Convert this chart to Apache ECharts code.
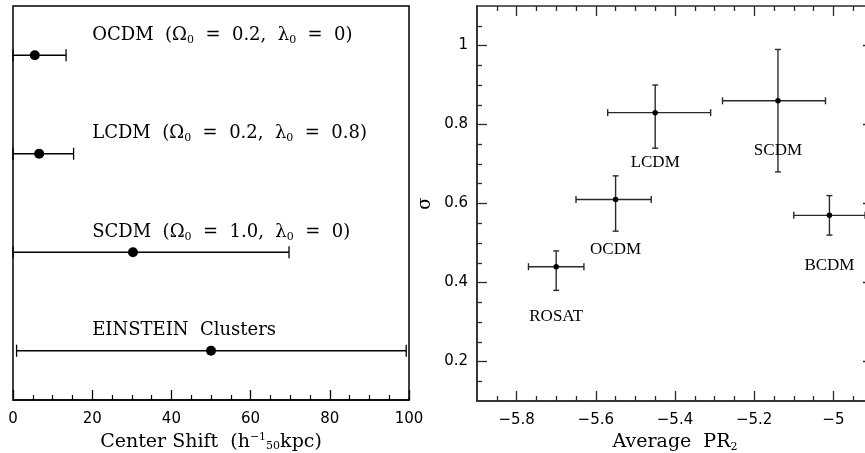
<!DOCTYPE html>
<html>
<head>
<meta charset="utf-8">
<script src="https://cdn.jsdelivr.net/npm/echarts@6/dist/echarts.min.js"></script>
<style>
  html, body { margin: 0; padding: 0; background: #fff; }
  #chart { width: 865px; height: 453px; }
</style>
</head>
<body>
<div id="chart"></div>
<script>
// left panel: center shift per model (rich text: {s|..} is a subscript)
const shiftNames = [
  'OCDM  (Ω{s|0}  =  0.2,  λ{s|0}  =  0)',
  'LCDM  (Ω{s|0}  =  0.2,  λ{s|0}  =  0.8)',
  'SCDM  (Ω{s|0}  =  1.0,  λ{s|0}  =  0)',
  'EINSTEIN  Clusters'
]
const shiftRow = [3.5, 2.5, 1.5, 0.5]
const shiftVal = [5.5, 6.6, 30.3, 50]
const shiftLo = [0, 0, 0, 0.9]
const shiftHi = [13.4, 15.3, 69.7, 99.3]

// right panel: sigma vs average PR2
const modelNames = ['ROSAT', 'OCDM', 'LCDM', 'SCDM', 'BCDM']
const pr2 = [-5.70, -5.55, -5.45, -5.14, -5.01]
const pr2Lo = [-5.77, -5.65, -5.57, -5.28, -5.10]
const pr2Hi = [-5.63, -5.46, -5.31, -5.02, -4.92]
const sigma = [0.44, 0.61, 0.83, 0.86, 0.57]
const sigmaLo = [0.38, 0.53, 0.74, 0.68, 0.52]
const sigmaHi = [0.48, 0.67, 0.90, 0.99, 0.62]

// tick values for the right panel
const xMajor = [-5.8, -5.6, -5.4, -5.2, -5.0]
const xMinor = [-5.85, -5.75, -5.7, -5.65, -5.55, -5.5, -5.45, -5.35, -5.3, -5.25, -5.15, -5.1, -5.05, -4.95]
const yMajor = [0.2, 0.4, 0.6, 0.8, 1.0]
const yMinor = [0.15, 0.25, 0.3, 0.35, 0.45, 0.5, 0.55, 0.65, 0.7, 0.75, 0.85, 0.9, 0.95, 1.05]

const INK = '#000'
const INK2 = '#2a2a2a'
const SERIF = 'DejaVu Serif'
const MAJOR = 10
const MINOR = 5
const tickFont = { color: INK, fontSize: 15, fontFamily: 'DejaVu Sans' }
const minus = v => String(v).replace('-', '\u2212')
const subRich = {
  s: { fontSize: 11, fontFamily: SERIF, color: INK, verticalAlign: 'bottom', padding: [9, 0, 0, 0] },
  u: { fontSize: 11, fontFamily: SERIF, color: INK, verticalAlign: 'top', padding: [0, 0, 6, 0] }
}

const chart = echarts.init(document.getElementById('chart'))

const leftData = shiftVal.map((v, i) => [v, shiftRow[i], shiftLo[i], shiftHi[i], i])
const rightData = pr2.map((v, i) => [v, sigma[i], pr2Lo[i], pr2Hi[i], sigmaLo[i], sigmaHi[i], i])

const renderShift = (params, api) => {
  const y = api.value(1)
  const a = api.coord([api.value(2), y])
  const b = api.coord([api.value(3), y])
  const t = api.coord([20, y])
  const st = { stroke: INK, lineWidth: 1.3 }
  return {
    type: 'group',
    children: [
      { type: 'line', shape: { x1: a[0], y1: a[1], x2: b[0], y2: b[1] }, style: st },
      { type: 'line', shape: { x1: a[0], y1: a[1] - 6, x2: a[0], y2: a[1] + 6 }, style: st },
      { type: 'line', shape: { x1: b[0], y1: b[1] - 6, x2: b[0], y2: b[1] + 6 }, style: st },
      {
        type: 'text',
        x: t[0], y: t[1] - 20,
        style: {
          text: shiftNames[api.value(4)],
          fill: INK, fontSize: 18, fontFamily: SERIF,
          align: 'left', verticalAlign: 'middle',
          rich: subRich
        }
      }
    ]
  }
}

const renderCross = (params, api) => {
  const x = api.value(0)
  const y = api.value(1)
  const p = api.coord([x, y])
  const xl = api.coord([api.value(2), y])
  const xh = api.coord([api.value(3), y])
  const yl = api.coord([x, api.value(4)])
  const yh = api.coord([x, api.value(5)])
  const st = { stroke: INK2, lineWidth: 1.4 }
  return {
    type: 'group',
    children: [
      { type: 'line', shape: { x1: xl[0], y1: p[1], x2: xh[0], y2: p[1] }, style: st },
      { type: 'line', shape: { x1: xl[0], y1: p[1] - 3.5, x2: xl[0], y2: p[1] + 3.5 }, style: st },
      { type: 'line', shape: { x1: xh[0], y1: p[1] - 3.5, x2: xh[0], y2: p[1] + 3.5 }, style: st },
      { type: 'line', shape: { x1: p[0], y1: yl[1], x2: p[0], y2: yh[1] }, style: st },
      { type: 'line', shape: { x1: p[0] - 3, y1: yl[1], x2: p[0] + 3, y2: yl[1] }, style: st },
      { type: 'line', shape: { x1: p[0] - 3, y1: yh[1], x2: p[0] + 3, y2: yh[1] }, style: st },
      {
        type: 'text',
        x: p[0], y: p[1] + 50,
        style: {
          text: modelNames[api.value(6)],
          fill: INK, fontSize: 17, fontFamily: 'Liberation Serif',
          align: 'center', verticalAlign: 'middle'
        }
      }
    ]
  }
}

// helper for the mirrored tick-only axes of the right panel
const tickAxis = (position, values, len, extra) => Object.assign({
  gridIndex: 1,
  type: 'value',
  position,
  axisLine: { show: false, onZero: false },
  axisTick: { show: true, inside: true, length: len, customValues: values, lineStyle: { color: INK2, width: 1.3 } },
  axisLabel: { show: false },
  splitLine: { show: false }
}, extra)

const xr = { min: -5.9, max: -4.9 }
const yr = { min: 0.1, max: 1.1 }

chart.setOption({
  animation: false,
  grid: [
    { left: 13, top: 6, width: 396, height: 394, outerBoundsMode: 'none', containLabel: false, show: true, borderColor: INK, borderWidth: 1.5, backgroundColor: 'transparent' },
    { left: 477, top: 6, width: 396, height: 395, outerBoundsMode: 'none', containLabel: false, show: true, borderColor: INK2, borderWidth: 1.5, backgroundColor: 'transparent' }
  ],
  xAxis: [
    {
      gridIndex: 0, type: 'value', min: 0, max: 100, interval: 20,
      axisLine: { onZero: false, lineStyle: { color: INK, width: 1.5 } },
      axisTick: { inside: true, length: MAJOR, lineStyle: { color: INK, width: 1.3 } },
      minorTick: { show: true, splitNumber: 4, length: MINOR, lineStyle: { color: INK, width: 1.2 } },
      splitLine: { show: false },
      axisLabel: Object.assign({ margin: 12 }, tickFont),
      name: 'Center Shift  (h{u|−1}{s|50}kpc)', nameLocation: 'middle', nameGap: 31,
      nameTextStyle: { color: INK, fontSize: 19, fontFamily: SERIF, rich: subRich }
    },
    tickAxis('bottom', xMajor, MAJOR, Object.assign({
      axisLine: { show: true, onZero: false, lineStyle: { color: INK2, width: 1.5 } },
      axisLabel: Object.assign({ show: true, margin: 12, customValues: xMajor, formatter: minus }, tickFont),
      name: 'Average  PR{s|2}', nameLocation: 'middle', nameGap: 31,
      nameTextStyle: { color: INK, fontSize: 19, fontFamily: SERIF, rich: subRich }
    }, xr)),
    tickAxis('bottom', xMinor, MINOR, xr),
    tickAxis('top', xMajor, MAJOR, xr),
    tickAxis('top', xMinor, MINOR, xr)
  ],
  yAxis: [
    { gridIndex: 0, type: 'value', min: 0, max: 4, show: false },
    tickAxis('left', yMajor, MAJOR, Object.assign({
      axisLine: { show: true, onZero: false, lineStyle: { color: INK2, width: 1.5 } },
      axisLabel: Object.assign({ show: true, margin: 9, customValues: yMajor }, tickFont),
      name: 'σ', nameLocation: 'middle', nameGap: 43, nameRotate: 90,
      nameTextStyle: { color: INK, fontSize: 18, fontFamily: SERIF }
    }, yr)),
    tickAxis('left', yMinor, MINOR, yr),
    tickAxis('right', yMajor, MAJOR, yr),
    tickAxis('right', yMinor, MINOR, yr)
  ],
  series: [
    {
      type: 'custom', xAxisIndex: 0, yAxisIndex: 0,
      renderItem: renderShift, data: leftData, clip: false, silent: true
    },
    {
      type: 'scatter', xAxisIndex: 0, yAxisIndex: 0,
      symbolSize: 10, itemStyle: { color: INK, opacity: 1 },
      data: leftData.map(d => [d[0], d[1]]), silent: true
    },
    {
      type: 'custom', xAxisIndex: 1, yAxisIndex: 1,
      renderItem: renderCross, data: rightData, clip: false, silent: true
    },
    {
      type: 'scatter', xAxisIndex: 1, yAxisIndex: 1,
      symbolSize: 5.5, itemStyle: { color: INK, opacity: 1 },
      data: rightData.map(d => [d[0], d[1]]), silent: true
    }
  ]
})
</script>
</body>
</html>
